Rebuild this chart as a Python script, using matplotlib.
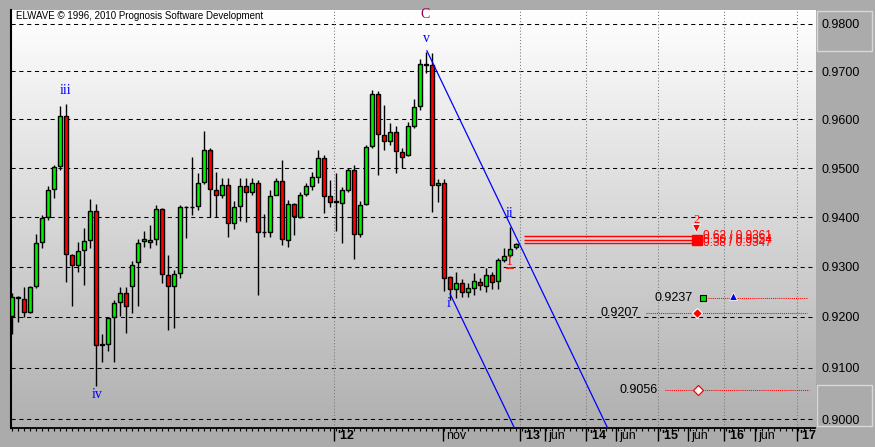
"""
ELWAVE-style candlestick chart with Elliott wave labels, channel and targets.
Output: out.png (875x447)
"""
import numpy as np
import matplotlib
matplotlib.use('Agg')
import matplotlib.pyplot as plt
from matplotlib.colors import LinearSegmentedColormap
from matplotlib.patches import Rectangle
from matplotlib.transforms import blended_transform_factory, ScaledTranslation
from matplotlib.ticker import FixedLocator, NullLocator, NullFormatter

# ── palette ──────────────────────────────────────────────────────────────────
FRAME   = '#ababab'
BG_TOP  = '#ffffff'
BG_BOT  = '#b0b0b0'
BULL_C  = '#00f000'
BEAR_C  = '#ff0000'
WAVE_C  = '#0000ff'
C_COL   = '#99004c'
TGT_C   = '#ff0000'

# ── candles (bar index = position) ───────────────────────────────────────────
opens = [0.9202, 0.9240, 0.9236, 0.9210, 0.9262, 0.9350, 0.9400, 0.9457, 0.9504, 0.9607,
         0.9324, 0.9304, 0.9334, 0.9354, 0.9413, 0.9147, 0.9146, 0.9200, 0.9230, 0.9248,
         0.9262, 0.9310, 0.9352, 0.9350, 0.9356, 0.9417, 0.9284, 0.9262, 0.9288, 0.9421,
         0.9420, 0.9423, 0.9472, 0.9537, 0.9455, 0.9445, 0.9465, 0.9388, 0.9423, 0.9463,
         0.9451, 0.9470, 0.9371, 0.9370, 0.9445, 0.9474, 0.9354, 0.9427, 0.9400, 0.9447,
         0.9463, 0.9482, 0.9521, 0.9443, 0.9432, 0.9429, 0.9455, 0.9496, 0.9366, 0.9427,
         0.9545, 0.9653, 0.9568, 0.9556, 0.9574, 0.9533, 0.9527, 0.9586, 0.9628, 0.9716,
         0.9714, 0.9466, 0.9470, 0.9280, 0.9256, 0.9268, 0.9250, 0.9258, 0.9270, 0.9262,
         0.9284, 0.9272, 0.9314, 0.9324, 0.9340]
highs = [0.9248, 0.9242, 0.9260, 0.9262, 0.9366, 0.9404, 0.9463, 0.9506, 0.9628, 0.9632,
         0.9326, 0.9350, 0.9378, 0.9437, 0.9427, 0.9166, 0.9200, 0.9234, 0.9260, 0.9260,
         0.9312, 0.9356, 0.9372, 0.9384, 0.9425, 0.9419, 0.9324, 0.9294, 0.9425, 0.9422,
         0.9523, 0.9490, 0.9576, 0.9541, 0.9492, 0.9480, 0.9480, 0.9433, 0.9480, 0.9480,
         0.9480, 0.9476, 0.9406, 0.9455, 0.9480, 0.9516, 0.9435, 0.9428, 0.9451, 0.9469,
         0.9492, 0.9537, 0.9527, 0.9476, 0.9490, 0.9461, 0.9500, 0.9506, 0.9433, 0.9547,
         0.9661, 0.9659, 0.9630, 0.9592, 0.9586, 0.9541, 0.9594, 0.9643, 0.9726, 0.9741,
         0.9739, 0.9478, 0.9478, 0.9282, 0.9290, 0.9276, 0.9268, 0.9288, 0.9278, 0.9298,
         0.9290, 0.9318, 0.9338, 0.9380, 0.9348]
lows = [0.9166, 0.9190, 0.9200, 0.9208, 0.9258, 0.9338, 0.9394, 0.9439, 0.9496, 0.9270,
        0.9222, 0.9290, 0.9264, 0.9338, 0.9064, 0.9111, 0.9133, 0.9111, 0.9202, 0.9168,
        0.9208, 0.9222, 0.9340, 0.9338, 0.9344, 0.9268, 0.9174, 0.9178, 0.9278, 0.9358,
        0.9404, 0.9415, 0.9468, 0.9401, 0.9401, 0.9439, 0.9360, 0.9376, 0.9392, 0.9390,
        0.9445, 0.9244, 0.9360, 0.9360, 0.9445, 0.9344, 0.9340, 0.9364, 0.9398, 0.9443,
        0.9455, 0.9470, 0.9409, 0.9421, 0.9372, 0.9348, 0.9451, 0.9316, 0.9360, 0.9425,
        0.9541, 0.9486, 0.9537, 0.9547, 0.9490, 0.9500, 0.9525, 0.9582, 0.9620, 0.9696,
        0.9411, 0.9431, 0.9252, 0.9234, 0.9238, 0.9240, 0.9240, 0.9244, 0.9254, 0.9250,
        0.9256, 0.9256, 0.9310, 0.9320, 0.9336]
closes = [0.9240, 0.9238, 0.9210, 0.9260, 0.9348, 0.9398, 0.9455, 0.9502, 0.9607, 0.9326,
          0.9304, 0.9332, 0.9352, 0.9413, 0.9145, 0.9145, 0.9198, 0.9228, 0.9248, 0.9222,
          0.9304, 0.9348, 0.9356, 0.9354, 0.9417, 0.9286, 0.9262, 0.9286, 0.9421, 0.9420,
          0.9421, 0.9470, 0.9537, 0.9457, 0.9445, 0.9465, 0.9388, 0.9421, 0.9463, 0.9451,
          0.9470, 0.9370, 0.9369, 0.9443, 0.9474, 0.9356, 0.9427, 0.9402, 0.9445, 0.9463,
          0.9482, 0.9521, 0.9443, 0.9431, 0.9430, 0.9455, 0.9496, 0.9366, 0.9425, 0.9543,
          0.9653, 0.9570, 0.9556, 0.9574, 0.9535, 0.9523, 0.9586, 0.9626, 0.9715, 0.9714,
          0.9466, 0.9470, 0.9278, 0.9256, 0.9268, 0.9250, 0.9258, 0.9272, 0.9264, 0.9284,
          0.9270, 0.9314, 0.9322, 0.9336, 0.9346]

# ── axes ─────────────────────────────────────────────────────────────────────
y_ticks = [0.90, 0.91, 0.92, 0.93, 0.94, 0.95, 0.96, 0.97, 0.98]
y_labels = ['0.9000', '0.9100', '0.9200', '0.9300', '0.9400',
            '0.9500', '0.9600', '0.9700', '0.9800']
x_ticks = [53.67, 71.73, 84.67, 88.78, 95.67, 100.6, 107.67, 112.67, 118.67, 123.78, 130.73]
x_labels = ["'12", 'nov', "'13", 'jun', "'14", 'jun', "'15", 'jun', "'16", 'jun', "'17"]
x_year = [True, False, True, False, True, False, True, False, True, False, True]

# ── wave annotations ─────────────────────────────────────────────────────────
wave_text = ['iii', 'iv', 'v', 'i', 'ii']
wave_x    = [8.8, 14.1, 69.0, 72.8, 82.8]
wave_y    = [0.9659, 0.9047, 0.9768, 0.9227, 0.9408]

# channel lines (two anchors each)
chan_a_x, chan_a_y = [69.1, 99.2], [0.9743, 0.8983]
chan_b_x, chan_b_y = [72.95, 83.67], [0.9246, 0.8983]

# fib projection lines
fib_labels = ['0.62 / 0.9361', '0.50 / 0.9354', '0.38 / 0.9347']
fib_prices = [0.9361, 0.9354, 0.9347]
fib_span   = [85.3, 114.1]

# target levels
tgt_prices = [0.9237, 0.9207, 0.9056]
tgt_start  = [115.9, 105.6, 108.7]
tgt_end    = [132.4, 132.4, 132.8]
tgt_text_x = [113.4, 104.5, 107.6]


def plot_candles(ax):
    w = 0.68
    for i, (o, h, l, c) in enumerate(zip(opens, highs, lows, closes)):
        color = BULL_C if c >= o else BEAR_C
        ax.vlines(i, l, h, color='black', lw=1.0, zorder=3)
        body = max(abs(c - o), 0.00006)
        ax.bar(i, body, bottom=min(o, c), width=w, color=color,
               edgecolor='black', lw=1.0, zorder=4)


def main():
    fig = plt.figure(figsize=(8.75, 4.47), dpi=100, facecolor=FRAME)
    L, R, B, T = 10.7 / 875, 815 / 875, 1 - 427.7 / 447, 1 - 10 / 447
    ax = fig.add_axes([L, B, R - L, T - B])

    # gradient background
    bg = fig.add_axes([L, B, R - L, T - B], zorder=-1)
    cmap = LinearSegmentedColormap.from_list('bg', [BG_BOT, BG_TOP])
    bg.imshow(np.linspace(0, 1, 256)[:, None], aspect='auto', cmap=cmap,
              origin='lower', extent=[0, 1, 0, 1])
    bg.set_axis_off()
    ax.patch.set_visible(False)

    ax.set_yscale('log')
    ax.set_xlim(-0.27, 133.78)
    ax.set_ylim(0.89832, 0.98290)

    # grid
    for p in y_ticks:
        ax.axhline(p, color='black', lw=0.75, dashes=(4, 3.5), zorder=1)
    for xt, yr in zip(x_ticks, x_year):
        if yr:
            ax.axvline(xt, color='#777777', lw=0.75, dashes=(1, 2), zorder=1)

    plot_candles(ax)

    # channel
    ax.plot(chan_a_x, chan_a_y, color=WAVE_C, lw=0.9, zorder=5)
    ax.plot(chan_b_x, chan_b_y, color=WAVE_C, lw=0.9, zorder=5)

    # wave labels
    for t, x, y in zip(wave_text, wave_x, wave_y):
        ax.text(x, y, t, color=WAVE_C, fontsize=10, family='Liberation Serif',
                ha='center', va='center', zorder=6)
    ax.text(68.85, 0.9820, 'C', color=C_COL, fontsize=10, family='Liberation Serif',
            ha='center', va='center', zorder=6)
    ax.text(82.8, 0.9311, '1', color=BEAR_C, fontsize=10, family='Liberation Serif',
            ha='center', va='center', zorder=6)
    ax.hlines(0.9298, 82.2, 83.6, color=BEAR_C, lw=1.2, zorder=6)

    # fib lines
    for p in fib_prices:
        ax.hlines(p, fib_span[0], fib_span[1], color=BEAR_C, lw=1.0, zorder=5)
    for t, p in zip(fib_labels, fib_prices):
        ax.text(fib_span[1] + 1.0, p, t, color=BEAR_C, fontsize=8.5,
                family='Liberation Sans', ha='left', va='center', zorder=6)
    ax.plot(fib_span[1], fib_prices[1], marker='s', ms=6.5, color=BEAR_C,
            mec=BEAR_C, zorder=7)
    ax.plot(fib_span[1] - 0.1, 0.93776, marker='v', ms=6, color=BEAR_C,
            mec='white', mew=0.6, zorder=7)
    ax.text(fib_span[1] - 0.1, 0.9394, '2', color=BEAR_C, fontsize=9,
            family='Liberation Serif', ha='center', va='center', zorder=7)

    # target levels
    for p, x0, x1, xt in zip(tgt_prices, tgt_start, tgt_end, tgt_text_x):
        ax.hlines(p, x0, x1, color=TGT_C, lw=0.75, linestyles=(0, (1, 1)), zorder=5)
        ax.text(xt, p, f'{p:.4f}', color='black', fontsize=9,
                family='Liberation Sans', ha='right', va='center', zorder=6)
    ax.plot(115.1, tgt_prices[0], marker='s', ms=5, color='#00e000', mec='black',
            mew=0.8, zorder=7)
    ax.plot(120.1, tgt_prices[0] + 0.0004, marker='^', ms=6, color=WAVE_C, mec='white',
            mew=0.6, zorder=7)
    ax.plot(114.1, tgt_prices[1], marker='D', ms=5.5, color=BEAR_C, mec='white',
            mew=0.8, zorder=7)
    ax.plot(114.2, tgt_prices[2], marker='D', ms=5.5, color='white', mec=BEAR_C,
            mew=0.9, zorder=7)

    # y axis on the right
    ax.yaxis.tick_right()
    ax.yaxis.set_major_locator(FixedLocator(y_ticks))
    ax.yaxis.set_minor_locator(NullLocator())
    ax.yaxis.set_minor_formatter(NullFormatter())
    ax.set_yticklabels(y_labels)
    ax.tick_params(axis='y', length=0, pad=5, labelsize=9, colors='black')
    for lbl in ax.get_yticklabels():
        lbl.set_family('Liberation Sans')

    # x axis: long major ticks, labels to the right of each tick
    ax.set_xticks(x_ticks)
    ax.set_xticklabels([''] * len(x_ticks))
    ax.xaxis.set_minor_locator(FixedLocator(np.arange(0, 134, 1)))
    ax.tick_params(axis='x', which='major', length=9.5, width=1.0, direction='out',
                   color='black')
    ax.tick_params(axis='x', which='minor', length=2.2, width=0.8, direction='out',
                   color='black')
    trans = blended_transform_factory(ax.transData, ax.transAxes) + \
        ScaledTranslation(3 / 100, -2.5 / 100, fig.dpi_scale_trans)
    for xt, t, yr in zip(x_ticks, x_labels, x_year):
        ax.text(xt, 0, t, transform=trans, ha='left', va='top', fontsize=9,
                family='Liberation Sans', fontweight='bold' if yr else 'normal',
                color='black')

    for side in ('top', 'right'):
        ax.spines[side].set_visible(False)
    ax.spines['left'].set_linewidth(1.5)
    ax.spines['bottom'].set_linewidth(1.3)

    # right panel boxes
    for y0, y1 in ((11, 51), (385, 426)):
        fig.patches.append(Rectangle((816.7 / 875, 1 - y1 / 447), 55 / 875, (y1 - y0) / 447,
                                     transform=fig.transFigure, fill=False,
                                     edgecolor='#d8d8d8', lw=1.0))

    fig.text(15.5 / 875, 1 - 16 / 447, 'ELWAVE \u00a9 1996, 2010 Prognosis Software Development',
             fontsize=7, family='Liberation Sans', ha='left', va='center', color='black')

    fig.savefig('out.png', dpi=100, facecolor=FRAME)
    plt.close(fig)


if __name__ == '__main__':
    main()
